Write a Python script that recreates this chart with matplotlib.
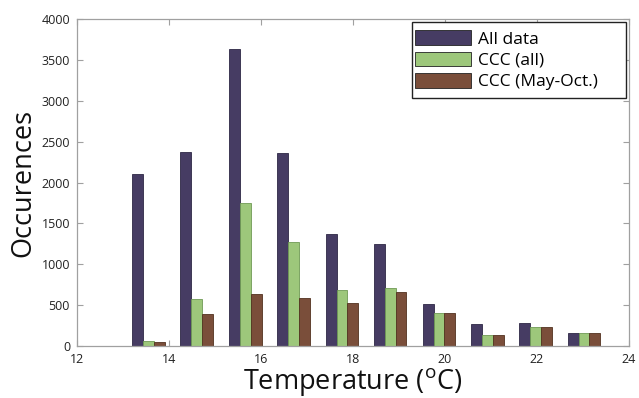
import matplotlib
matplotlib.use("Agg")
import matplotlib.pyplot as plt
from matplotlib.patches import Rectangle
import numpy as np

plt.rcParams['font.family'] = ['Open Sans', 'DejaVu Sans']
plt.rcParams['mathtext.fontset'] = 'custom'
plt.rcParams['mathtext.rm'] = 'Open Sans'

# Bin centres of the temperature histogram (°C)
bin_centers = [13.55, 14.60, 15.66, 16.71, 17.76, 18.81, 19.87, 20.92, 21.97, 23.02]

# Occurrence counts per bin
all_data = [2110, 2370, 3630, 2357, 1366, 1248, 510, 273, 285, 163]
ccc_all = [57, 579, 1753, 1268, 685, 705, 408, 135, 236, 163]
ccc_may_oct = [49, 395, 640, 583, 522, 660, 408, 135, 236, 163]

series_labels = ["All data", "CCC (all)", "CCC (May-Oct.)"]
colors = ["#463c63", "#9dc77b", "#7a4e3a"]
edges = ["#2e2745", "#6f9a55", "#52321f"]

x_ticks = [12, 14, 16, 18, 20, 22, 24]
y_ticks = [0, 500, 1000, 1500, 2000, 2500, 3000, 3500, 4000]

W, H = 639, 398
fig = plt.figure(figsize=(W / 100, H / 100), dpi=100)
ax = fig.add_axes([77 / W, 1 - 346 / H, (629 - 77) / W, (346 - 19) / H])

width = 0.235
centers = np.array(bin_centers)
for i, (vals, lab) in enumerate(zip([all_data, ccc_all, ccc_may_oct], series_labels)):
    ax.bar(centers + (i - 1) * width, vals, width=width, color=colors[i],
           edgecolor=edges[i], linewidth=0.6, label=lab, zorder=2)

ax.set_xlim(12, 24)
ax.set_ylim(0, 4000)
ax.set_xticks(x_ticks)
ax.set_yticks(y_ticks)
ax.tick_params(direction='in', length=4, width=0.8, color='#a0a0a0',
               top=True, right=True, labelsize=9, labelcolor='#222222', pad=5)
for s in ax.spines.values():
    s.set_color('#a0a0a0')
    s.set_linewidth(0.9)

ax.set_xlabel(r"Temperature (${}^{\mathrm{o}}$C)", fontsize=19.5, color='#111111', labelpad=0)
ax.set_ylabel("Occurences", fontsize=19.5, color='#111111', labelpad=3)

# Legend without its own frame; a box with a wider right margin is drawn around it
right_margin = 20
leg = ax.legend(loc='upper right', fontsize=12.5,
                frameon=False, handlelength=3.2, handleheight=0.95,
                handletextpad=0.4, borderpad=0.45, labelspacing=0.22,
                borderaxespad=0.2 + right_margin / 17.4)
leg.set_bbox_to_anchor((1.0, 1.0 + right_margin / 327), transform=ax.transAxes)
for h in leg.legend_handles:
    h.set_edgecolor('#222222')

fig.canvas.draw()
bb = leg.get_window_extent()
ab = ax.get_window_extent()
x_right = ab.x1 - 3
y_top = ab.y1 - 3
box = Rectangle((bb.x0 + 4, bb.y0), x_right - bb.x0 - 4, y_top - bb.y0,
                transform=None, facecolor='white', edgecolor='#222222',
                linewidth=1.0, zorder=4)
fig.add_artist(box)
leg.remove()
leg.set_zorder(5)
fig.add_artist(leg)

fig.savefig("out.png", dpi=100)
